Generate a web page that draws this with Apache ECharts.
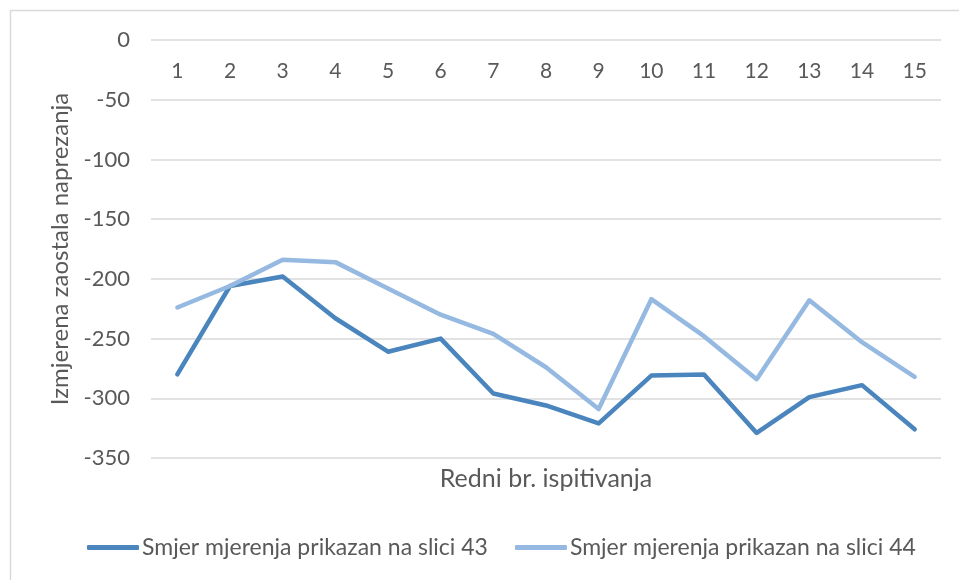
<!DOCTYPE html>
<html>
<head>
<meta charset="utf-8">
<script src="https://cdn.jsdelivr.net/npm/echarts@6/dist/echarts.min.js"></script>
<style>
  html, body { margin: 0; padding: 0; background: #fff; }
  #chart { width: 959px; height: 580px; }
</style>
</head>
<body>
<div id="chart"></div>
<script>
// Test numbers along the x axis
const categories = ['1','2','3','4','5','6','7','8','9','10','11','12','13','14','15'];

// Measured residual stresses for the two measurement directions
const seriesNames = ['Smjer mjerenja prikazan na slici 43', 'Smjer mjerenja prikazan na slici 44'];
const dir43 = [-280, -206, -198, -233, -261, -250, -296, -306, -321, -281, -280, -329, -299, -289, -326];
const dir44 = [-224, -206, -184, -186, -208, -230, -246, -274, -309, -217, -248, -284, -218, -253, -282];

const colors = ['#4a85bd', '#95b9e0'];
const textColor = '#595959';
const fontFamily = 'Lato, "Open Sans", sans-serif';

const chart = echarts.init(document.getElementById('chart'));
chart.setOption({
  animation: false,
  textStyle: { fontFamily: fontFamily },
  grid: { left: 151, right: 18, top: 40, bottom: 122 },
  xAxis: {
    type: 'category',
    data: categories,
    position: 'top',
    boundaryGap: true,
    axisLine: { show: false },
    axisTick: { show: false },
    axisLabel: { inside: true, margin: 21, color: textColor, fontSize: 21, fontFamily: fontFamily },
    splitLine: { show: false }
  },
  yAxis: {
    type: 'value',
    min: -350,
    max: 0,
    interval: 50,
    axisLine: { show: false },
    axisTick: { show: false },
    axisLabel: { margin: 21, color: textColor, fontSize: 22, fontFamily: fontFamily },
    splitLine: { lineStyle: { color: '#d9d9d9', width: 1.5 } },
    name: 'Izmjerena zaostala naprezanja',
    nameLocation: 'middle',
    nameRotate: 90,
    nameGap: 74,
    nameTextStyle: { color: textColor, fontSize: 24, fontFamily: fontFamily }
  },
  legend: {
    bottom: 16,
    left: 82,
    itemWidth: 52,
    itemHeight: 5,
    itemGap: 27,
    icon: 'roundRect',
    textStyle: { color: textColor, fontSize: 23, fontFamily: fontFamily, padding: [0, 0, 0, -2] },
    data: seriesNames
  },
  graphic: [
    {
      type: 'rect',
      shape: { x: 10.5, y: 10.5, width: 960, height: 600 },
      style: { fill: 'none', stroke: '#d9d9d9', lineWidth: 1.5 },
      silent: true
    },
    {
      type: 'text',
      x: 546,
      y: 479,
      style: {
        text: 'Redni br. ispitivanja',
        fill: textColor,
        font: '25px ' + fontFamily,
        textAlign: 'center',
        textVerticalAlign: 'middle'
      }
    }
  ],
  series: [
    {
      name: seriesNames[0],
      type: 'line',
      data: dir43,
      showSymbol: false,
      symbol: 'none',
      lineStyle: { color: colors[0], width: 4.5, cap: 'round', join: 'round' },
      itemStyle: { color: colors[0] }
    },
    {
      name: seriesNames[1],
      type: 'line',
      data: dir44,
      showSymbol: false,
      symbol: 'none',
      lineStyle: { color: colors[1], width: 4.5, cap: 'round', join: 'round' },
      itemStyle: { color: colors[1] }
    }
  ]
});
</script>
</body>
</html>
